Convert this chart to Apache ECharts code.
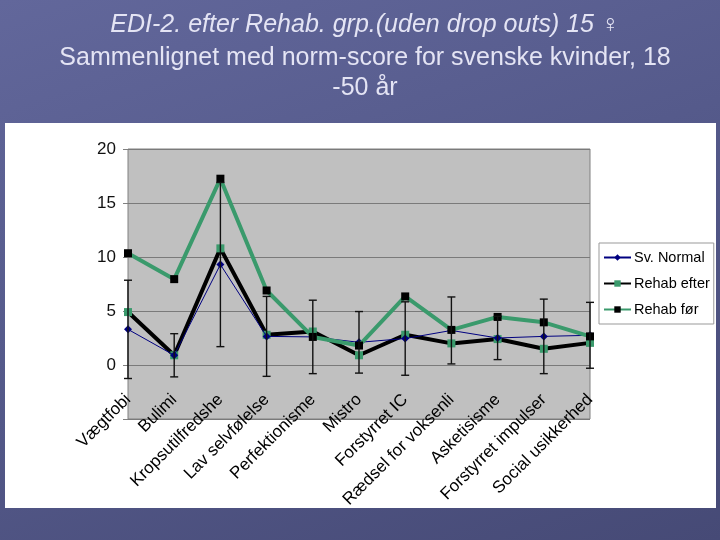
<!DOCTYPE html>
<html>
<head>
<meta charset="utf-8">
<script src="https://cdn.jsdelivr.net/npm/echarts@6/dist/echarts.min.js"></script>
<style>
  html, body { margin: 0; padding: 0; }
  body {
    width: 720px; height: 540px; overflow: hidden; position: relative;
    background: linear-gradient(160deg, #62679b 0%, #555a8b 45%, #464a76 100%);
  }
  #box { position: absolute; left: 5px; top: 123px; width: 711px; height: 385px; background: #fff; }
  #chart { position: absolute; left: 0; top: 0; width: 720px; height: 540px; }
</style>
</head>
<body>
<div id="box"></div>
<div id="chart"></div>
<script>
// categories on the x axis (as visible, cut off like in the slide)
var categories = ['Vægtfobi', 'Bulimi', 'Kropsutilfredshe', 'Lav selvfølelse', 'Perfektionisme',
    'Mistro', 'Forstyrret IC', 'Rædsel for voksenli', 'Asketisisme', 'Forstyrret impulser', 'Social usikkerhed'];

// norm-score, swedish women 18-50
var svNormal = [3.3, 0.9, 9.3, 2.65, 2.6, 2.1, 2.45, 3.2, 2.5, 2.65, 2.75];
// standard deviation (error bars) of the norm-score
var svNormalSd = [4.55, 2.0, 7.6, 3.7, 3.4, 2.85, 3.4, 3.1, 2.0, 3.45, 3.05];
// rehab group after
var rehabEfter = [4.9, 0.9, 10.8, 2.8, 3.1, 0.9, 2.8, 2.0, 2.4, 1.5, 2.05];
// rehab group before
var rehabFoer = [10.35, 7.95, 17.25, 6.9, 2.6, 1.8, 6.35, 3.25, 4.45, 3.95, 2.65];

var yTicks = [-5, 0, 5, 10, 15, 20];

var font = 'Liberation Sans, Arial, sans-serif';

//error bar data: [index, low, high]
var errData = [];
for (var i = 0; i < svNormal.length; i++) {
    errData.push([i, svNormal[i] - svNormalSd[i], svNormal[i] + svNormalSd[i]]);
}

function renderErr(params, api) {
    var x = api.value(0);
    var lo = api.coord([x, api.value(1)]);
    var hi = api.coord([x, api.value(2)]);
    var cap = 4;
    var style = { stroke: '#111', lineWidth: 1.4 };
    return {
        type: 'group',
        children: [
            { type: 'line', shape: { x1: lo[0], y1: lo[1], x2: hi[0], y2: hi[1] }, style: style },
            { type: 'line', shape: { x1: lo[0] - cap, y1: lo[1], x2: lo[0] + cap, y2: lo[1] }, style: style },
            { type: 'line', shape: { x1: hi[0] - cap, y1: hi[1], x2: hi[0] + cap, y2: hi[1] }, style: style }
        ]
    };
}

var green = '#3a9a6c';
var titleColor = '#e4e4f4';

var option = {
    animation: false,
    title: [{
        text: 'EDI-2. efter Rehab. grp.(uden drop outs) 15 ♀',
        left: 360,
        textAlign: 'center',
        top: 8,
        textStyle: { color: titleColor, fontSize: 25, fontStyle: 'italic', fontWeight: 'normal', fontFamily: font }
    }, {
        text: 'Sammenlignet med norm-score for svenske kvinder, 18\n-50 år',
        left: 360,
        textAlign: 'center',
        top: 38,
        textStyle: { color: titleColor, fontSize: 25, fontWeight: 'normal', fontFamily: font, lineHeight: 30 }
    }],
    legend: {
        orient: 'vertical',
        left: 599,
        top: 243,
        backgroundColor: '#fff',
        borderColor: '#999',
        borderWidth: 1,
        padding: [7, 4, 7, 4],
        itemGap: 11,
        itemWidth: 27,
        itemHeight: 8,
        textStyle: { fontSize: 14.5, color: '#000', fontFamily: font, padding: [0, 0, 0, -2] },
        data: ['Sv. Normal', 'Rehab efter', 'Rehab før']
    },
    grid: {
        left: 128, right: 130, top: 149, bottom: 121,
        show: true,
        backgroundColor: '#c0c0c0',
        borderColor: '#808080',
        borderWidth: 1
    },
    xAxis: {
        type: 'category',
        data: categories,
        boundaryGap: false,
        axisLine: { show: false },
        axisTick: { show: false },
        axisLabel: {
            interval: 0,
            rotate: 45,
            margin: -22,
            fontSize: 17,
            color: '#000',
            fontFamily: font
        }
    },
    yAxis: {
        type: 'value',
        min: yTicks[0],
        max: yTicks[yTicks.length - 1],
        interval: 5,
        axisLine: { show: false },
        axisTick: { show: true, length: 5, lineStyle: { color: '#808080' } },
        axisLabel: {
            fontSize: 17,
            color: '#111',
            fontFamily: font,
            margin: 12,
            formatter: function (v) { return v < 0 ? '' : v; }
        },
        splitLine: { lineStyle: { color: '#7a7a7a', width: 1 } }
    },
    series: [{
        name: 'Sv. Normal',
        type: 'line',
        data: svNormal,
        symbol: 'diamond',
        symbolSize: 8,
        lineStyle: { color: '#000080', width: 1 },
        itemStyle: { color: '#000080' },
        z: 3
    }, {
        name: 'Rehab efter',
        type: 'line',
        data: rehabEfter,
        symbol: 'rect',
        symbolSize: 8,
        lineStyle: { color: '#000', width: 4 },
        itemStyle: { color: green },
        z: 2
    }, {
        name: 'Rehab før',
        type: 'line',
        data: rehabFoer,
        symbol: 'rect',
        symbolSize: 8,
        lineStyle: { color: green, width: 4 },
        itemStyle: { color: '#000' },
        z: 4
    }, {
        name: 'sd',
        type: 'custom',
        data: errData,
        renderItem: renderErr,
        clip: false,
        z: 5,
        silent: true
    }]
};

var myChart = echarts.init(document.querySelector('#chart'));
myChart.setOption(option);
</script>
</body>
</html>
